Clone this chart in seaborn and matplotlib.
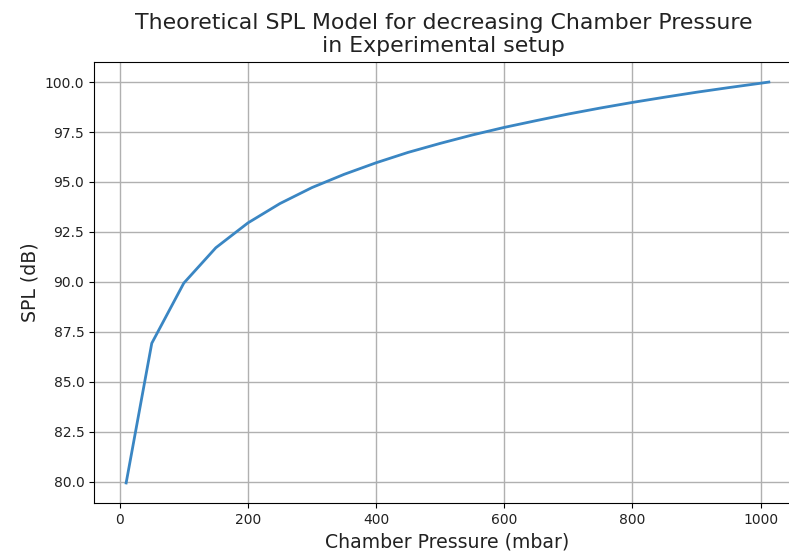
import matplotlib
matplotlib.use("Agg")
import matplotlib.pyplot as plt
import seaborn as sns
import pandas as pd

pressure = [10, 50, 100, 150, 200, 250, 300, 350, 400, 450, 500, 550, 600,
            650, 700, 750, 800, 850, 900, 950, 1000, 1013]
spl = [79.94, 86.93, 89.94, 91.71, 92.95, 93.92, 94.72, 95.38, 95.96, 96.48,
       96.93, 97.35, 97.73, 98.07, 98.40, 98.70, 98.98, 99.24, 99.49, 99.72,
       99.94, 100.0]

df = pd.DataFrame({"p": pressure, "spl": spl})

fig = plt.figure(figsize=(7.89, 5.51), dpi=100)
ax = fig.add_axes([94/789, 1-503/551, (801-94)/789, (503-62)/551])
sns.lineplot(data=df, x="p", y="spl", ax=ax, color="#3a86c3", linewidth=2)
ax.grid(True, color="#b0b0b0", linewidth=1)
ax.set_axisbelow(True)
ax.set_title("Theoretical SPL Model for decreasing Chamber Pressure\nin Experimental setup",
             fontsize=15.8, pad=7, x=0.494, color="#222222")
ax.set_xlabel("Chamber Pressure (mbar)", fontsize=13.6, color="#222222")
ax.set_ylabel("SPL (dB)", fontsize=13.6, color="#222222")
ax.set_yticks([80, 82.5, 85, 87.5, 90, 92.5, 95, 97.5, 100])
ax.tick_params(labelcolor="#222222")
fig.savefig("out.png", dpi=100)
